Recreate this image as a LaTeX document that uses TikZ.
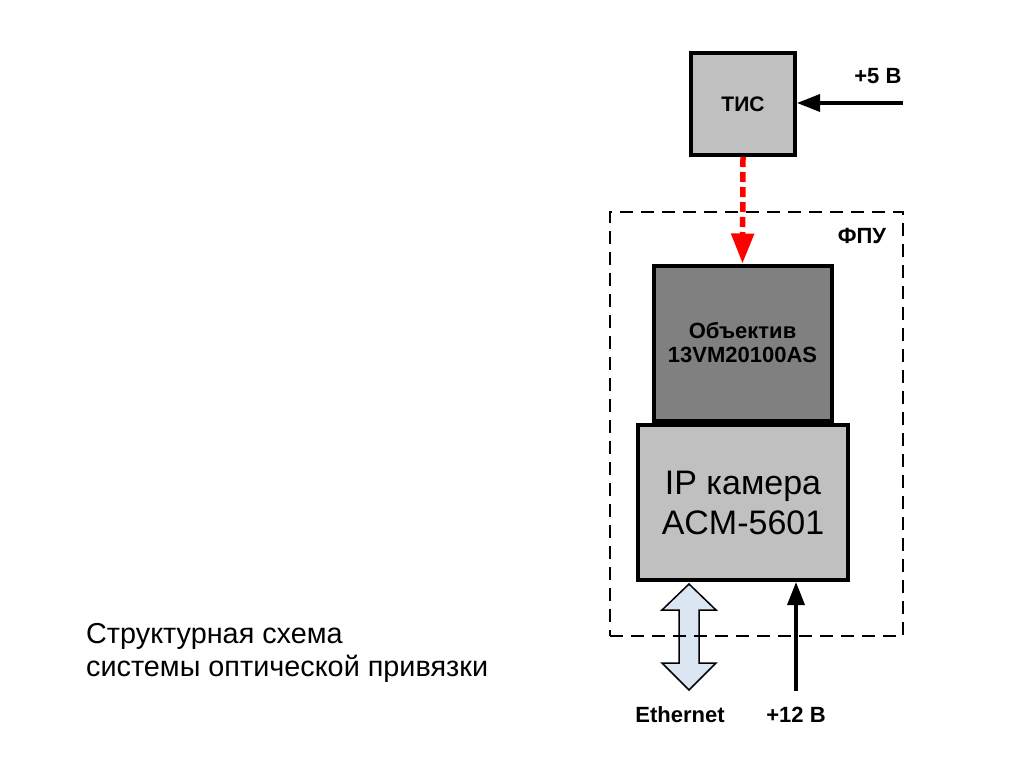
\documentclass[tikz,border=0pt]{standalone}
\usepackage{fontspec}
\setmainfont{Liberation Sans}
\usetikzlibrary{arrows.meta}
\definecolor{boxgray}{HTML}{C0C0C0}
\definecolor{lensgray}{HTML}{808080}
\definecolor{ethblue}{HTML}{DCE6F2}
\tikzset{
  block/.style={draw, line width=4pt, align=center, inner sep=0pt},
  lbl/.style={font=\bfseries\fontsize{22}{26}\selectfont},
  pwr/.style={line width=3.5pt, -{Triangle[length=23pt,width=17pt]}}
}
\begin{document}
\begin{tikzpicture}[x=1pt, y=-1pt]
    \useasboundingbox (0,0) rectangle (1024,768);
    % blocks
    \node[block, fill=boxgray, minimum width=104pt, minimum height=102pt,
          font=\bfseries\fontsize{21}{25}\selectfont] (tis) at (743,104) {ТИС};
    \node[block, fill=lensgray, minimum width=178pt, minimum height=155pt,
          font=\bfseries\fontsize{22}{24}\selectfont] (lens) at (742.5,343)
          {Объектив\\13VM20100AS};
    \node[block, fill=boxgray, minimum width=210pt, minimum height=155pt,
          font=\fontsize{34}{40}\selectfont] (cam) at (743,502.5)
          {IP камера\\ACM-5601};
    % TIS -> lens
    \draw[red, line width=5.5pt, dash pattern=on 10pt off 5pt,
          -{Triangle[length=30pt,width=22pt]}] (tis.south) -- (lens.north);
    % power
    \coordinate (in5) at (903,103);
    \draw[pwr] (in5) -- (tis.east |- in5);
    \node[lbl, anchor=base east] (p5) at (905,83) {+5 В};
    \coordinate (in12) at (796,691);
    \draw[pwr] (in12) -- (in12 |- cam.south);
    \node[lbl, anchor=base] (p12) at (796,722) {+12 В};
    % ethernet
    \coordinate (ethtop) at (689,584);
    \draw[fill=ethblue, line width=1.5pt] (ethtop) -- ++(27,26) -- ++(-17,0) -- ++(0,53)
        -- ++(17,0) -- ++(-27,27) -- ++(-27,-27) -- ++(17,0) -- ++(0,-53)
        -- ++(-17,0) -- cycle;
    \node[lbl, anchor=base] (eth) at (680,722) {Ethernet};
    % FPU frame
    \node[draw, line width=2.5pt, dash pattern=on 13pt off 8pt,
          minimum width=293pt, minimum height=424pt] (fpu) at (756.5,424) {};
    \node[lbl, anchor=base] (fpulbl) at (862,243) {ФПУ};
    % caption
    \node[anchor=base west, align=left, inner sep=0pt,
          font=\fontsize{28.8}{33}\selectfont] (title) at (86,676)
          {Структурная схема\\системы оптической привязки};
\end{tikzpicture}
\end{document}
